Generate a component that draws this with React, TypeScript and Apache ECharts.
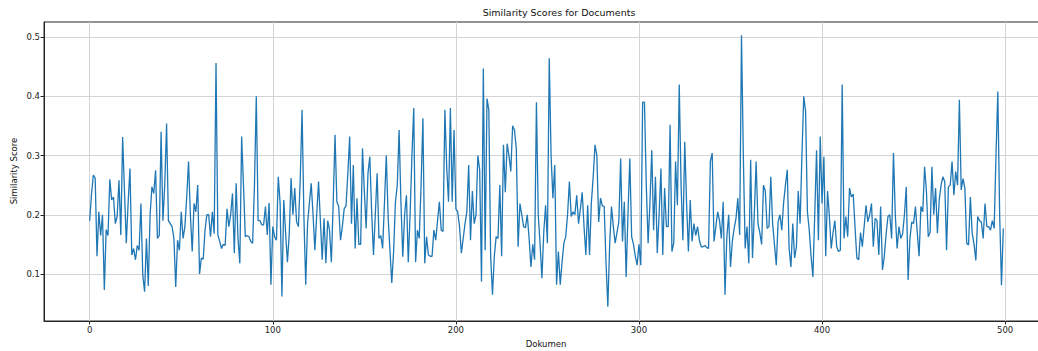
import React, { useEffect, useRef } from "react";
import * as echarts from "echarts";

const scores: number[] = [
  0.19, 0.235, 0.267, 0.262, 0.13, 0.205, 0.165, 0.2, 0.073, 0.175,
  0.165, 0.26, 0.225, 0.23, 0.185, 0.197, 0.258, 0.166, 0.331, 0.24,
  0.152, 0.22, 0.278, 0.132, 0.143, 0.124, 0.148, 0.14, 0.219, 0.098,
  0.07, 0.16, 0.08, 0.2, 0.247, 0.236, 0.275, 0.16, 0.165, 0.34,
  0.19, 0.25, 0.354, 0.19, 0.185, 0.18, 0.16, 0.078, 0.157, 0.14,
  0.205, 0.16, 0.18, 0.23, 0.29, 0.2, 0.138, 0.219, 0.205, 0.25,
  0.1, 0.127, 0.125, 0.174, 0.2, 0.2, 0.163, 0.205, 0.168, 0.456,
  0.166, 0.155, 0.143, 0.15, 0.148, 0.21, 0.18, 0.2, 0.236, 0.135,
  0.253, 0.16, 0.118, 0.332, 0.25, 0.163, 0.165, 0.163, 0.155, 0.152,
  0.25, 0.4, 0.19, 0.19, 0.183, 0.183, 0.214, 0.166, 0.22, 0.082,
  0.18, 0.163, 0.157, 0.264, 0.22, 0.062, 0.225, 0.17, 0.12, 0.168,
  0.262, 0.2, 0.245, 0.188, 0.18, 0.26, 0.377, 0.197, 0.082, 0.185,
  0.22, 0.253, 0.2, 0.14, 0.2,
  0.256, 0.19, 0.124, 0.194, 0.118,
  0.19, 0.174, 0.12, 0.22, 0.335, 0.222, 0.214, 0.157, 0.18, 0.21,
  0.215, 0.27, 0.332, 0.185, 0.284, 0.143, 0.228, 0.15, 0.15, 0.312,
  0.24, 0.177, 0.27, 0.298, 0.205, 0.132, 0.2, 0.27, 0.16, 0.165,
  0.143, 0.22, 0.3, 0.197, 0.14, 0.085, 0.138, 0.222,
  0.25, 0.343, 0.22, 0.129, 0.2, 0.233, 0.12, 0.2, 0.3, 0.38, 0.12,
  0.174, 0.16, 0.25, 0.363, 0.118, 0.163, 0.132, 0.13, 0.13, 0.174,
  0.157, 0.19, 0.222, 0.174, 0.172, 0.377, 0.28, 0.222, 0.38, 0.222,
  0.343, 0.21, 0.205, 0.18, 0.135, 0.16, 0.185, 0.205, 0.284, 0.157,
  0.24, 0.185, 0.2, 0.3, 0.276, 0.087, 0.447, 0.14, 0.396, 0.377,
  0.129, 0.065, 0.13, 0.163, 0.16, 0.25, 0.13, 0.318, 0.238, 0.32,
  0.3, 0.273, 0.35, 0.343, 0.312, 0.146, 0.219, 0.2, 0.18, 0.178,
  0.2, 0.16, 0.112, 0.15, 0.124, 0.39, 0.2, 0.15, 0.093, 0.17,
  0.216, 0.152, 0.464,
  0.3, 0.228, 0.284, 0.082, 0.138, 0.082, 0.12,
  0.152, 0.163, 0.2, 0.256, 0.197, 0.205, 0.2, 0.233, 0.185, 0.21,
  0.238, 0.18, 0.132, 0.216, 0.132, 0.22, 0.264, 0.318, 0.3, 0.188,
  0.228, 0.215, 0.214, 0.12, 0.045, 0.15, 0.214, 0.18, 0.152, 0.17,
  0.188, 0.295, 0.155, 0.222, 0.095,
  0.2, 0.295, 0.163, 0.15, 0.13,
  0.115, 0.15, 0.115, 0.39, 0.39, 0.25, 0.152, 0.22, 0.309, 0.174,
  0.264, 0.135, 0.2, 0.278, 0.132, 0.245, 0.18, 0.18, 0.352, 0.138,
  0.152, 0.29, 0.216, 0.42, 0.25, 0.157, 0.323, 0.22, 0.138, 0.225,
  0.155, 0.185, 0.165, 0.18, 0.157, 0.146,
  0.146, 0.148, 0.145,
  0.143, 0.29, 0.304, 0.155, 0.18, 0.205, 0.19, 0.16, 0.222, 0.065,
  0.163, 0.2, 0.112, 0.155, 0.177, 0.194, 0.228, 0.166, 0.503, 0.3,
  0.143, 0.18, 0.118, 0.293, 0.127, 0.2, 0.29, 0.185, 0.17, 0.15,
  0.25, 0.24, 0.177, 0.18, 0.264, 0.185, 0.15, 0.115, 0.188,
  0.2, 0.174, 0.22, 0.25, 0.276, 0.143, 0.112, 0.185, 0.127, 0.146, 0.24,
  0.185, 0.3, 0.4, 0.375, 0.205, 0.174, 0.13, 0.095, 0.2, 0.309,
  0.157, 0.332, 0.219, 0.298, 0.13, 0.24, 0.197, 0.143, 0.17, 0.19,
  0.146, 0.138, 0.14, 0.42, 0.16, 0.197, 0.163, 0.245, 0.23, 0.235, 0.18, 0.127,
  0.124, 0.17, 0.146, 0.18, 0.216, 0.188, 0.2, 0.219,
  0.146, 0.194, 0.19, 0.132, 0.214, 0.107, 0.13, 0.168, 0.197, 0.2,
  0.16, 0.304, 0.2, 0.143, 0.18, 0.16, 0.168, 0.2, 0.247, 0.09,
  0.16, 0.188, 0.185, 0.214, 0.17, 0.13, 0.214, 0.205, 0.281, 0.24,
  0.163, 0.17, 0.281, 0.2,
  0.245, 0.169, 0.225, 0.25, 0.264, 0.256, 0.14, 0.247, 0.25, 0.29,
  0.233, 0.273, 0.25, 0.394, 0.242, 0.261, 0.245, 0.152, 0.149, 0.23,
  0.169, 0.15, 0.123, 0.197, 0.19, 0.188, 0.16, 0.219, 0.18, 0.18,
  0.174, 0.19, 0.177, 0.3, 0.408, 0.2, 0.081, 0.177,
];

const xTicks: number[] = [0, 100, 200, 300, 400, 500];
const yTicks: number[] = [0.1, 0.2, 0.3, 0.4, 0.5];
const titleText = "Similarity Scores for Documents";
const xName = "Dokumen";
const yName = "Similarity Score";

export default function App() {
  const ref = useRef<HTMLDivElement>(null);
  useEffect(() => {
    if (!ref.current) return;
    const chart = echarts.init(ref.current, null, { renderer: "svg" });
    const font = "DejaVu Sans";
    const axisColor = "#262626";
    const gridColor = "#d4d4d4";
    chart.setOption({
      animation: false,
      backgroundColor: "#ffffff",
      textStyle: { fontFamily: font },
      grid: {
        left: 44,
        right: -11,
        top: 22,
        bottom: 30,
        show: true,
        borderColor: axisColor,
        borderWidth: 1,
        backgroundColor: "transparent",
        containLabel: false,
        outerBoundsMode: "none",
      },
      xAxis: {
        type: "value",
        min: -24.95,
        max: 523.95,
        axisLine: { show: true, onZero: false, lineStyle: { color: axisColor, width: 1 } },
        axisTick: { show: true, length: 3.5, customValues: xTicks, lineStyle: { color: axisColor } },
        axisLabel: {
          customValues: xTicks,
          color: "#222",
          fontSize: 8.5,
          fontFamily: font,
          margin: 4,
          formatter: (v: number) => String(Math.round(v)),
        },
        splitLine: { show: true, lineStyle: { color: gridColor, width: 1 } },
      },
      yAxis: {
        type: "value",
        min: 0.0207,
        max: 0.5253,
        axisLine: { show: true, onZero: false, lineStyle: { color: axisColor, width: 1 } },
        axisTick: { show: true, length: 3.5, customValues: yTicks, lineStyle: { color: axisColor } },
        axisLabel: {
          customValues: yTicks,
          color: "#222",
          fontSize: 8.5,
          fontFamily: font,
          margin: 4,
          formatter: (v: number) => v.toFixed(1),
        },
        splitLine: { show: true, lineStyle: { color: gridColor, width: 1 } },
      },
      series: [
        {
          type: "line",
          data: scores.map((v, i) => [i, v]),
          showSymbol: false,
          symbol: "none",
          clip: true,
          lineStyle: { color: "#1f77b4", width: 1.3 },
        },
      ],
      graphic: [
        {
          type: "text",
          x: 559,
          y: 12,
          style: {
            text: titleText,
            fill: "#111",
            fontSize: 9.5,
            fontFamily: font,
            align: "center",
            verticalAlign: "middle",
          },
        },
        {
          type: "text",
          x: 546,
          y: 344,
          style: {
            text: xName,
            fill: "#111",
            fontSize: 8.5,
            fontFamily: font,
            align: "center",
            verticalAlign: "middle",
          },
        },
        {
          type: "text",
          x: 14,
          y: 171,
          rotation: Math.PI / 2,
          style: {
            text: yName,
            fill: "#111",
            fontSize: 8.5,
            fontFamily: font,
            align: "center",
            verticalAlign: "middle",
          },
        },
      ],
    });
    return () => chart.dispose();
  }, []);
  return (
    <div
      ref={ref}
      style={{ position: "fixed", left: 0, top: 0, width: 1038, height: 351, background: "#fff" }}
    />
  );
}
